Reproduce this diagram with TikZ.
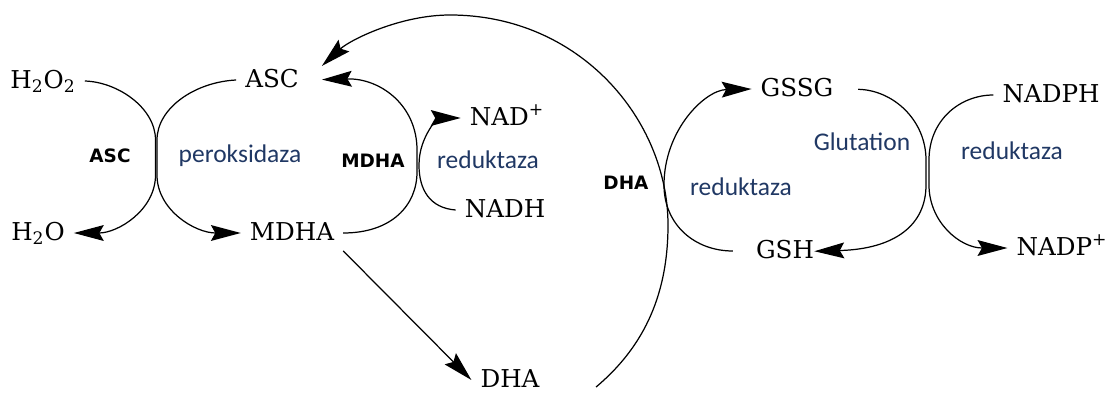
\documentclass[tikz,border=0pt]{standalone}
\usepackage{fontspec}
\setmainfont{DejaVu Serif}
\newfontfamily\enzfont{Carlito}
\newfontfamily\tagfont{DejaVu Sans}
\usetikzlibrary{arrows.meta}
\definecolor{enzblue}{RGB}{32,56,100}

\begin{document}
\begin{tikzpicture}[
        x=0.02cm, y=-0.02cm,
        chem/.style={inner sep=5pt, text height=9pt, text depth=1pt, font=\fontsize{14}{16}\selectfont},
        enz/.style={inner sep=0pt, text=enzblue, font=\enzfont\fontsize{14.5}{16}\selectfont},
        tag/.style={inner sep=0pt, font=\tagfont\bfseries\fontsize{10.5}{12}\selectfont},
        rxn/.style={line width=0.7pt, -{Stealth[length=17pt, width=9pt, inset=2.5pt]}}
    ]
    \useasboundingbox (0,0) rectangle (1108,392);

    % Ascorbate peroxidase
    \node[chem] (h2o2) at (43,81) {H\textsubscript{2}O\textsubscript{2}};
    \node[chem] (asc) at (272,80) {ASC};
    \node[chem] (h2o) at (38,233) {H\textsubscript{2}O};
    \node[chem] (mdha) at (292,233) {MDHA};
    \node[tag] (lasc) at (110,156) {ASC};
    \node[enz] (lperox) at (240,156) {peroksidaza};

    % MDHA reductase
    \node[chem] (nadp) at (507,118) {NAD\textsuperscript{+}};
    \node[chem] (nadh) at (505,210) {NADH};
    \node[tag] (lmdha) at (373,161) {MDHA};
    \node[enz] (lred1) at (488,160) {reduktaza};

    % DHA reductase
    \node[chem] (dha) at (510,380) {DHA};
    \node[chem] (gssg) at (797,89) {GSSG};
    \node[chem] (gsh) at (785,251) {GSH};
    \node[tag] (ldha) at (626,183) {DHA};
    \node[enz] (lred2) at (741,187) {reduktaza};

    % Glutation reductase
    \node[chem] (nadph) at (1051,95) {NADPH};
    \node[chem] (nadpplus) at (1062,248) {NADP\textsuperscript{+}};
    \node[enz] (lglut) at (862,142) {Glutation};
    \node[enz] (lred3) at (1012,151) {reduktaza};

    % Lines
    \draw[rxn] (h2o2.east) .. controls (118,82) and (155.5,108) .. (155.5,140) -- (155.5,175)
        .. controls (155.5,210) and (118,233) .. (h2o.east);
    \draw[rxn] (asc.west) .. controls (195,82) and (157,108) .. (157,140) -- (157,175)
        .. controls (157,210) and (195,233) .. (mdha.west);
    \draw[rxn, shorten >=8pt] (mdha.east) .. controls (392,233) and (417,205) .. (417,172) -- (417,150)
        .. controls (417,105) and (380,78) .. (asc.east);
    \draw[rxn] (nadh.west) .. controls (430,208) and (419,190) .. (419,165)
        .. controls (419,135) and (440,118) .. (nadp.west);
    \draw[rxn] (mdha.south east) -- (dha.west);
    \draw[rxn] ([shift={(27pt,-4pt)}]dha.east) .. controls (640,350) and (668,300) .. (668,225)
        .. controls (668,120) and (580,15) .. (450,15)
        .. controls (400,15) and (350,40) .. ([shift={(8pt,8pt)}]asc.east);
    \draw[rxn, shorten <=8pt] (gsh.west) .. controls (695,251) and (664,225) .. (664,185)
        .. controls (664,130) and (705,90) .. (gssg.west);
    \draw[rxn, shorten <=9pt, shorten >=-5pt] (gssg.east) .. controls (893,90) and (926,120) .. (926,160) -- (926,185)
        .. controls (926,225) and (895,249) .. (gsh.east);
    \draw[rxn] (nadph.west) .. controls (960,95) and (929,120) .. (929,160) -- (929,185)
        .. controls (929,222) and (960,248) .. (nadpplus.west);

\end{tikzpicture}
\end{document}
